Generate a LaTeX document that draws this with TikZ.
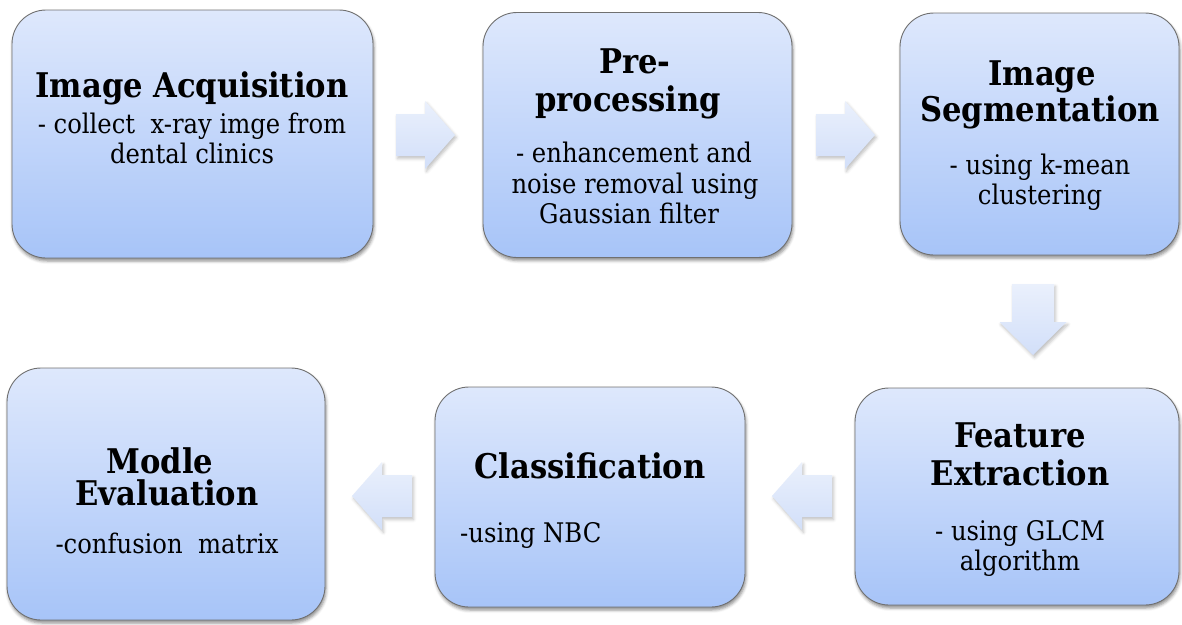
\documentclass[tikz,border=0pt]{standalone}
\usepackage{fontspec}
\setmainfont{DejaVu Serif Condensed}
\usetikzlibrary{shadows.blur}

\definecolor{boxtop}{HTML}{DEE8FC}
\definecolor{boxbot}{HTML}{A7C4F8}
\definecolor{boxline}{HTML}{707070}
\definecolor{arrtop}{HTML}{EAF0FC}
\definecolor{arrbot}{HTML}{D2DFF9}

\tikzset{
  stagebox/.style={draw=boxline, line width=0.9pt, rounded corners=34pt,
    top color=boxtop, bottom color=boxbot, inner sep=0pt, outer sep=0pt,
    blur shadow={shadow xshift=1pt, shadow yshift=-3pt, shadow blur radius=3pt, shadow opacity=45}},
  blockarrow/.style={top color=arrtop, bottom color=arrbot, draw=none,
    blur shadow={shadow xshift=1.5pt, shadow yshift=-2.5pt, shadow blur radius=3pt, shadow opacity=25}},
  headline/.style={font=\fontsize{34}{34}\selectfont\bfseries, anchor=base, inner sep=0pt},
  bodyline/.style={font=\fontsize{27}{30}\selectfont, anchor=base, inner sep=0pt},
}

\begin{document}
\begin{tikzpicture}[x=1pt, y=-1pt]
\useasboundingbox (0,0) rectangle (1182,624);

% stage boxes, top row left to right
\node[stagebox, minimum width=361pt, minimum height=248pt] (acq) at (192.5,134) {};
\node[stagebox, minimum width=309pt, minimum height=245pt] (pre) at (637.5,135) {};
\node[stagebox, minimum width=279pt, minimum height=242pt] (seg) at (1039.5,134) {};
% bottom row, right to left
\node[stagebox, minimum width=324pt, minimum height=217pt] (fea) at (1017,496.5) {};
\node[stagebox, minimum width=310pt, minimum height=220pt] (cls) at (590,497) {};
\node[stagebox, minimum width=318pt, minimum height=252pt] (eva) at (166,494) {};

% block arrows between the stages
\coordinate (r1) at (396,135);
\coordinate (r2) at (816,135);
\coordinate (d1) at (1033,284);
\coordinate (l1) at (412,496);
\coordinate (l2) at (832,496);

\path[blockarrow] (r1) ++(0,-21) -- ++(29,0) -- ++(0,-13) -- ++(30,34) -- ++(-30,34) -- ++(0,-13) -- ++(-29,0) -- cycle;
\path[blockarrow] (r2) ++(0,-21) -- ++(29,0) -- ++(0,-13) -- ++(30,34) -- ++(-30,34) -- ++(0,-13) -- ++(-29,0) -- cycle;
\path[blockarrow] (d1) ++(-21,0) -- ++(42,0) -- ++(0,38) -- ++(12.5,0) -- ++(-33.5,33) -- ++(-33.5,-33) -- ++(12.5,0) -- cycle;
\path[blockarrow] (l1) ++(0,-21) -- ++(-30,0) -- ++(0,-13) -- ++(-30,34) -- ++(30,34) -- ++(0,-13) -- ++(30,0) -- cycle;
\path[blockarrow] (l2) ++(0,-21) -- ++(-30,0) -- ++(0,-13) -- ++(-30,34) -- ++(30,34) -- ++(0,-13) -- ++(30,0) -- cycle;

% texts of the stages
\node[headline] (acqh) at (192,97) {Image Acquisition};
\node[bodyline] (acqa) at (192,133) {- collect\ \ x-ray imge from};
\node[bodyline] (acqb) at (192,163) {dental clinics};

\node[headline] (preh1) at (635,73) {Pre-};
\node[headline] (preh2) at (628,111) {processing};
\node[bodyline] (prea) at (634,162) {- enhancement and};
\node[bodyline] (preb) at (635,193) {noise removal using};
\node[bodyline] (prec) at (629,223) {Gaussian filter};

\node[headline] (segh1) at (1042,85) {Image};
\node[headline] (segh2) at (1040,121) {Segmentation};
\node[bodyline] (sega) at (1040,174) {- using k-mean};
\node[bodyline] (segb) at (1040,204) {clustering};

\node[headline] (feah1) at (1020,447) {Feature};
\node[headline] (feah2) at (1020,485) {Extraction};
\node[bodyline] (feaa) at (1020,540) {- using GLCM};
\node[bodyline] (feab) at (1020,570) {algorithm};

\node[headline] (clsh) at (590,478) {Classification};
\node[bodyline, anchor=base west] (clsa) at (460,542) {-using NBC};

\node[headline] (evah1) at (160,473) {Modle};
\node[headline] (evah2) at (167,505) {Evaluation};
\node[bodyline] (evaa) at (167,553) {-confusion\ \ matrix};
\end{tikzpicture}
\end{document}
